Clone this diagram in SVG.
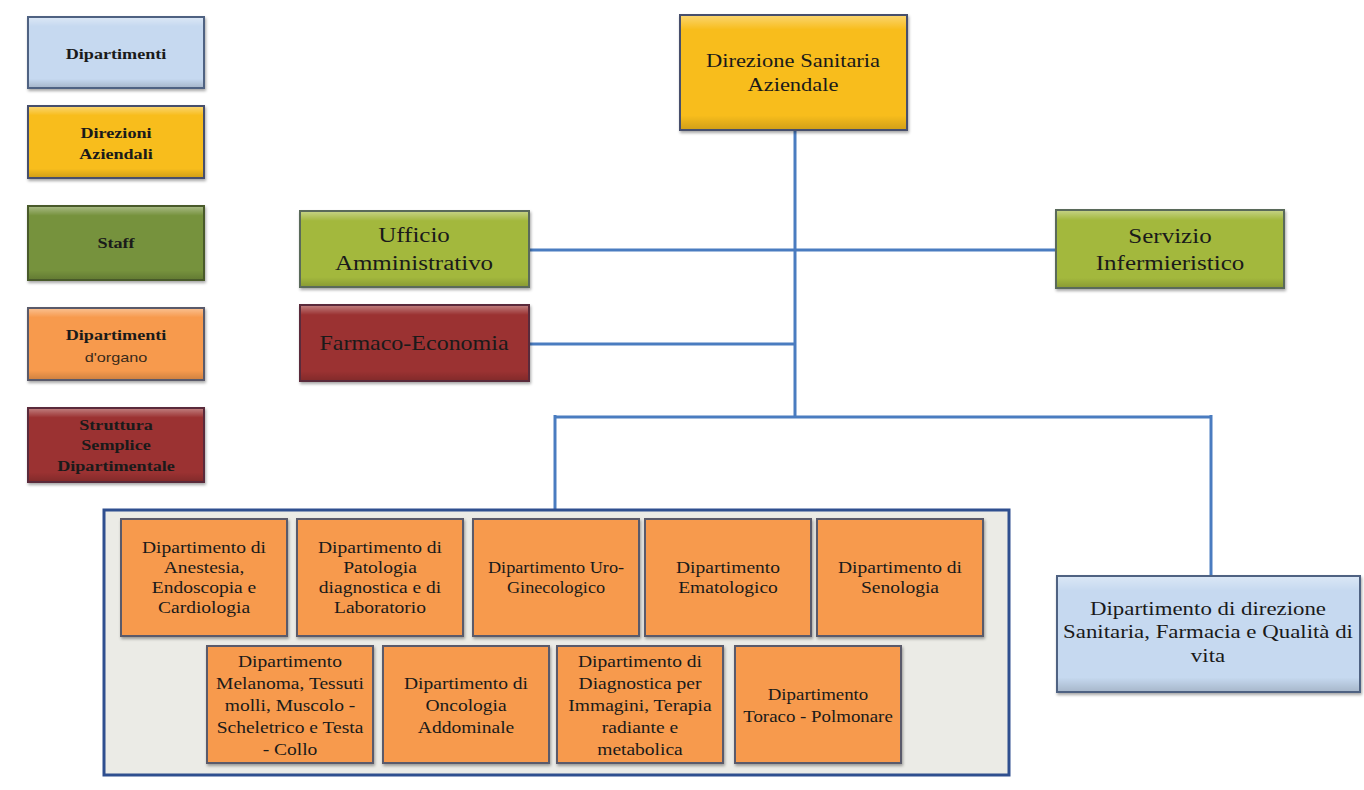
<svg xmlns="http://www.w3.org/2000/svg" width="1364" height="790" viewBox="0 0 1364 790">
<defs>
<filter id="sh" x="-10%" y="-10%" width="120%" height="130%">
<feDropShadow dx="1" dy="2" stdDeviation="1.5" flood-color="#000" flood-opacity="0.35"/>
</filter>
<linearGradient id="bev" x1="0" y1="0" x2="0" y2="1">
<stop offset="0" stop-color="#fff" stop-opacity="0.35"/>
<stop offset="0.12" stop-color="#fff" stop-opacity="0"/>
<stop offset="0.88" stop-color="#000" stop-opacity="0"/>
<stop offset="1" stop-color="#000" stop-opacity="0.15"/>
</linearGradient>
<style>
.t{font-family:"Liberation Serif","Times New Roman",serif;fill:#1a1a1a;text-anchor:middle}
.lg{font-size:14.5px;font-weight:bold}
.o{font-size:16px}
.m{font-size:18px}
.b{font-size:20px}
.box{stroke-width:2;filter:url(#sh)}
.bv{fill:url(#bev);stroke:none}
.blue{fill:#c6d9f0;stroke:#4f6282}
.gold{fill:#f8bd1c;stroke:#46506c}
.green{fill:#a3b83c;stroke:#5a6a5a}
.olive{fill:#76923c;stroke:#4a5a2a}
.orange{fill:#f79a4e;stroke:#5a5a6a}
.red{fill:#9b3333;stroke:#5a2a3a}
.conn{stroke:#4a7cc0;stroke-width:3;fill:none}
</style>
</defs>
<rect width="1364" height="790" fill="#ffffff"/>

<g id="legend">
<g id="leg-dip"><rect class="box blue" x="28" y="17" width="176" height="71"/><rect class="bv" x="29" y="18" width="174" height="69"/>
<g transform="translate(116 0) scale(1.25 1)"><text class="t lg" x="0" y="59">Dipartimenti</text></g></g>
<g id="leg-dir"><rect class="box gold" x="28" y="106" width="176" height="72"/><rect class="bv" x="29" y="107" width="174" height="70"/>
<g transform="translate(116 0) scale(1.25 1)"><text class="t lg" x="0" y="138">Direzioni</text><text class="t lg" x="0" y="159">Aziendali</text></g></g>
<g id="leg-staff"><rect class="box olive" x="28" y="206" width="176" height="74"/><rect class="bv" x="29" y="207" width="174" height="72"/>
<g transform="translate(116 0) scale(1.25 1)"><text class="t lg" x="0" y="248">Staff</text></g></g>
<g id="leg-org"><rect class="box orange" x="28" y="308" width="176" height="72"/><rect class="bv" x="29" y="309" width="174" height="70"/>
<g transform="translate(116 0) scale(1.25 1)"><text class="t lg" x="0" y="340">Dipartimenti</text>
<text x="0" y="362" style="font-family:'Liberation Sans',Arial,sans-serif;font-size:13px;fill:#3a2a1a;text-anchor:middle">d'organo</text></g></g>
<g id="leg-ssd"><rect class="box red" x="28" y="408" width="176" height="74"/><rect class="bv" x="29" y="409" width="174" height="72"/>
<g transform="translate(116 0) scale(1.25 1)"><text class="t lg" x="0" y="430">Struttura</text><text class="t lg" x="0" y="450">Semplice</text><text class="t lg" x="0" y="471">Dipartimentale</text></g></g>
</g>

<g id="connectors">
<line class="conn" x1="795" y1="130" x2="795" y2="417"/>
<line class="conn" x1="529" y1="250" x2="1056" y2="250"/>
<line class="conn" x1="529" y1="344" x2="795" y2="344"/>
<line class="conn" x1="555" y1="417" x2="1211" y2="417"/>
<line class="conn" x1="555" y1="415" x2="555" y2="510"/>
<line class="conn" x1="1211" y1="415" x2="1211" y2="577"/>
</g>

<g id="direzione"><rect class="box gold" x="680" y="15" width="227" height="115"/><rect class="bv" x="681" y="16" width="225" height="113"/>
<g transform="translate(793 0) scale(1.25 1)"><text class="t m" x="0" y="67">Direzione Sanitaria</text>
<text class="t m" x="0" y="91">Aziendale</text></g></g>

<g id="ufficio"><rect class="box green" x="300" y="211" width="229" height="76"/><rect class="bv" x="301" y="212" width="227" height="74"/>
<g transform="translate(414 0) scale(1.25 1)"><text class="t b" x="0" y="242">Ufficio</text>
<text class="t b" x="0" y="270">Amministrativo</text></g></g>

<g id="farmaco"><rect class="box red" x="300" y="305" width="229" height="76"/><rect class="bv" x="301" y="306" width="227" height="74"/>
<g transform="translate(414 0) scale(1.2 1)"><text class="t b" x="0" y="350">Farmaco-Economia</text></g></g>

<g id="servizio"><rect class="box green" x="1056" y="210" width="228" height="78"/><rect class="bv" x="1057" y="211" width="226" height="76"/>
<g transform="translate(1170 0) scale(1.25 1)"><text class="t b" x="0" y="243">Servizio</text>
<text class="t b" x="0" y="270">Infermieristico</text></g></g>

<g id="container"><rect x="104" y="510" width="905" height="265" fill="#ebebe6" stroke="#2f4f8f" stroke-width="3"/></g>

<g id="d1"><rect class="box orange" x="121" y="519" width="166" height="117"/>
<g transform="translate(204 0) scale(1.22 1)"><text class="t o" x="0" y="553">Dipartimento di</text><text class="t o" x="0" y="573">Anestesia,</text><text class="t o" x="0" y="593">Endoscopia e</text><text class="t o" x="0" y="613">Cardiologia</text></g></g>
<g id="d2"><rect class="box orange" x="297" y="519" width="166" height="117"/>
<g transform="translate(380 0) scale(1.22 1)"><text class="t o" x="0" y="553">Dipartimento di</text><text class="t o" x="0" y="573">Patologia</text><text class="t o" x="0" y="593">diagnostica e di</text><text class="t o" x="0" y="613">Laboratorio</text></g></g>
<g id="d3"><rect class="box orange" x="473" y="519" width="166" height="117"/>
<g transform="translate(556 0) scale(1.14 1)"><text class="t o" x="0" y="573">Dipartimento Uro-</text><text class="t o" x="0" y="593">Ginecologico</text></g></g>
<g id="d4"><rect class="box orange" x="645" y="519" width="166" height="117"/>
<g transform="translate(728 0) scale(1.22 1)"><text class="t o" x="0" y="573">Dipartimento</text><text class="t o" x="0" y="593">Ematologico</text></g></g>
<g id="d5"><rect class="box orange" x="817" y="519" width="166" height="117"/>
<g transform="translate(900 0) scale(1.22 1)"><text class="t o" x="0" y="573">Dipartimento di</text><text class="t o" x="0" y="593">Senologia</text></g></g>

<g id="d6"><rect class="box orange" x="207" y="646" width="166" height="117"/>
<g transform="translate(290 0) scale(1.22 1)"><text class="t o" x="0" y="667">Dipartimento</text><text class="t o" x="0" y="689">Melanoma, Tessuti</text><text class="t o" x="0" y="711">molli, Muscolo -</text><text class="t o" x="0" y="733">Scheletrico e Testa</text><text class="t o" x="0" y="755">- Collo</text></g></g>
<g id="d7"><rect class="box orange" x="383" y="646" width="166" height="117"/>
<g transform="translate(466 0) scale(1.22 1)"><text class="t o" x="0" y="689">Dipartimento di</text><text class="t o" x="0" y="711">Oncologia</text><text class="t o" x="0" y="733">Addominale</text></g></g>
<g id="d8"><rect class="box orange" x="557" y="646" width="166" height="117"/>
<g transform="translate(640 0) scale(1.22 1)"><text class="t o" x="0" y="667">Dipartimento di</text><text class="t o" x="0" y="689">Diagnostica per</text><text class="t o" x="0" y="711">Immagini, Terapia</text><text class="t o" x="0" y="733">radiante e</text><text class="t o" x="0" y="755">metabolica</text></g></g>
<g id="d9"><rect class="box orange" x="735" y="646" width="166" height="117"/>
<g transform="translate(818 0) scale(1.18 1)"><text class="t o" x="0" y="700">Dipartimento</text><text class="t o" x="0" y="722">Toraco - Polmonare</text></g></g>

<g id="dir-dip"><rect class="box blue" x="1057" y="576" width="303" height="116"/><rect class="bv" x="1058" y="577" width="301" height="114"/>
<g transform="translate(1208 0) scale(1.27 1)"><text class="t m" x="0" y="615">Dipartimento di direzione</text>
<text class="t m" x="0" y="638">Sanitaria, Farmacia e Qualità di</text>
<text class="t m" x="0" y="662">vita</text></g></g>
</svg>
